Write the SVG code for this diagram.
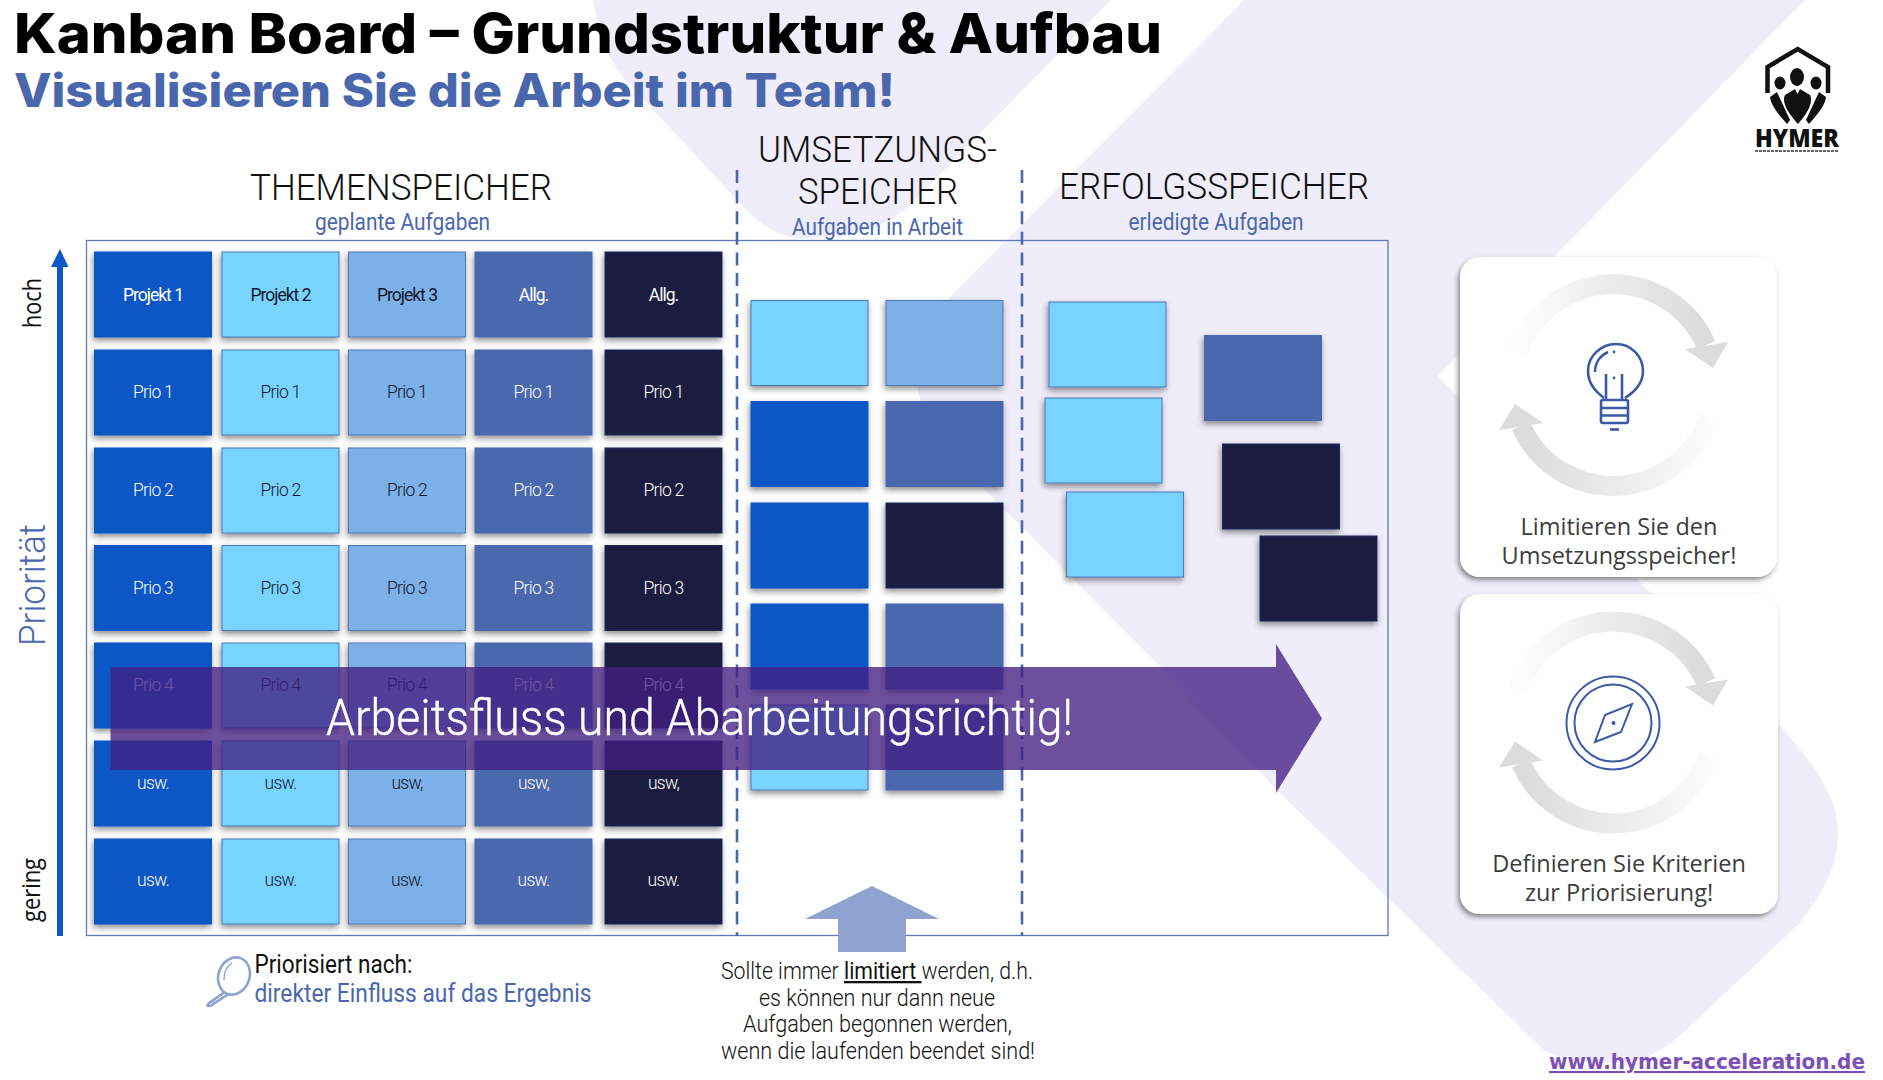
<svg xmlns="http://www.w3.org/2000/svg" xmlns:xlink="http://www.w3.org/1999/xlink" width="1883" height="1080" viewBox="0 0 1883 1080">
<defs>
<filter id="sh" x="-15%" y="-15%" width="130%" height="130%"><feDropShadow dx="-1" dy="3" stdDeviation="3" flood-color="#000" flood-opacity=".45"/></filter>
<filter id="psh" x="-5%" y="-5%" width="110%" height="110%"><feDropShadow dx="-2" dy="3" stdDeviation="2.5" flood-color="#333" flood-opacity=".55"/></filter>
<linearGradient id="gTop" gradientUnits="userSpaceOnUse" x1="1525" y1="0" x2="1700" y2="0"><stop offset="0" stop-color="#fcfcfc"/><stop offset=".5" stop-color="#ebebeb"/><stop offset="1" stop-color="#dcdcdc"/></linearGradient>
<linearGradient id="gBot" gradientUnits="userSpaceOnUse" x1="1525" y1="0" x2="1710" y2="0"><stop offset="0" stop-color="#dcdcdc"/><stop offset=".5" stop-color="#ebebeb"/><stop offset="1" stop-color="#fcfcfc"/></linearGradient>
<g id="cycle">
<path d="M1518,352 A101,101 0 0 1 1706,345" fill="none" stroke="url(#gTop)" stroke-width="20"/>
<path d="M1521,426 A101,101 0 0 0 1709,417" fill="none" stroke="url(#gBot)" stroke-width="20"/>
<polygon points="1685,349 1728,342 1713,368" fill="#dcdcdc"/>
<polygon points="1543,423 1499,430 1515,404" fill="#dcdcdc"/>
</g>
</defs>
<style>
text{font-family:"Roboto","Liberation Sans",sans-serif}
.c rect{width:117px;height:85px;filter:url(#sh);stroke-width:1}
.c text{font-size:17.5px;text-anchor:middle;font-weight:300;letter-spacing:-.7px}
.c .h{font-weight:400;letter-spacing:-1px}
.b rect{fill:#0d57c6;stroke:#0d57c6}
.l rect{fill:#78d4ff;stroke:#4a78b8}
.m rect{fill:#7cb0e6;stroke:#4f78b8}
.s rect{fill:#4a67ae;stroke:#4a67ae}
.n rect{fill:#1a1f40;stroke:#1f2a5a}
.b text,.s text,.n text{fill:#fff}
.l text,.m text{fill:#10182e}
.hd{font-size:36px;font-weight:300;fill:#111}
.sb{font-size:23px;fill:#4a67ae}
.nt{font-size:23px;font-weight:300;fill:#111;text-anchor:middle}
.pt{font-family:"Open Sans",sans-serif;font-size:23.5px;fill:#3c3c3c;text-anchor:middle}
.ic{fill:none;stroke:#3b5aa5;stroke-width:2.6}
</style>
<rect width="1883" height="1080" fill="#fff"/>
<g id="background" fill="#f0edfa">
<path d="M593,0 C598,30 605,55 625,80 L749,213 C770,232 785,238 805,238 C845,238 880,235 915,200 L1111,0 Z"/>
<path d="M1244,0 L1805,0 L1438,376 L1778,723 C1820,770 1838,800 1838,833 C1838,865 1825,890 1800,923 L1683,1033 C1650,1062 1630,1063 1610,1063 C1585,1063 1565,1060 1543,1050 L1400,910 L1276,789 L1160,667 L985,490 L930,425 C905,370 915,335 950,297 Z"/>
</g>
<g id="title">
<text x="14" y="53" font-size="55" font-weight="800" fill="#000" style="font-family:Inter,sans-serif" textLength="1148" lengthAdjust="spacingAndGlyphs">Kanban Board – Grundstruktur &amp; Aufbau</text>
<text x="14" y="107" font-size="46" font-weight="800" fill="#4a67ae" style="font-family:Inter,sans-serif" textLength="881" lengthAdjust="spacingAndGlyphs">Visualisieren Sie die Arbeit im Team!</text>
</g>
<g id="headers">
<text class="hd" x="250" y="200" textLength="302" lengthAdjust="spacingAndGlyphs">THEMENSPEICHER</text>
<text class="sb" x="315" y="230" textLength="175" lengthAdjust="spacingAndGlyphs">geplante Aufgaben</text>
<text class="hd" x="758" y="162" textLength="239" lengthAdjust="spacingAndGlyphs">UMSETZUNGS-</text>
<text class="hd" x="798" y="204" textLength="160" lengthAdjust="spacingAndGlyphs">SPEICHER</text>
<text class="sb" x="792" y="235" textLength="171" lengthAdjust="spacingAndGlyphs">Aufgaben in Arbeit</text>
<text class="hd" x="1059" y="199" textLength="310" lengthAdjust="spacingAndGlyphs">ERFOLGSSPEICHER</text>
<text class="sb" x="1128.5" y="230" textLength="175" lengthAdjust="spacingAndGlyphs">erledigte Aufgaben</text>
</g>
<g id="board-frame"><rect x="86.5" y="240.5" width="1301.5" height="695" fill="none" stroke="#5f7ab8" stroke-width="1.3"/></g>
<g id="connectors">
<line x1="737" y1="170" x2="737" y2="936" stroke="#4a67ae" stroke-width="2.6" stroke-dasharray="13 7.6"/>
<line x1="1022" y1="170" x2="1022" y2="936" stroke="#4a67ae" stroke-width="2.6" stroke-dasharray="13 7.6"/>
<path d="M60,936 V265" stroke="#0d57c6" stroke-width="6" fill="none"/>
<polygon points="60,249 68.5,267 51,267" fill="#0d57c6"/>
</g>
<g id="axis">
<text transform="translate(41,328) rotate(-90)" font-size="26" style="font-family:'Open Sans',sans-serif" fill="#111" textLength="50" lengthAdjust="spacingAndGlyphs">hoch</text>
<text transform="translate(40,922) rotate(-90)" font-size="26" style="font-family:'Open Sans',sans-serif" fill="#111" textLength="64" lengthAdjust="spacingAndGlyphs">gering</text>
<text transform="translate(45,646) rotate(-90)" font-size="37" font-weight="300" fill="#4a67ae" textLength="122" lengthAdjust="spacingAndGlyphs">Priorität</text>
</g>
<g id="themenspeicher">
<g id="t-r1c1" class="c b" transform="translate(94.5,252)"><rect/><text class="h" x="58.5" y="49">Projekt 1</text></g>
<g id="t-r1c2" class="c l" transform="translate(222,252)"><rect/><text class="h" x="58.5" y="49">Projekt 2</text></g>
<g id="t-r1c3" class="c m" transform="translate(348.5,252)"><rect/><text class="h" x="58.5" y="49">Projekt 3</text></g>
<g id="t-r1c4" class="c s" transform="translate(475,252)"><rect/><text class="h" x="58.5" y="49">Allg.</text></g>
<g id="t-r1c5" class="c n" transform="translate(605,252)"><rect/><text class="h" x="58.5" y="49">Allg.</text></g>
<g id="t-r2c1" class="c b" transform="translate(94.5,350)"><rect/><text x="58.5" y="48">Prio 1</text></g>
<g id="t-r2c2" class="c l" transform="translate(222,350)"><rect/><text x="58.5" y="48">Prio 1</text></g>
<g id="t-r2c3" class="c m" transform="translate(348.5,350)"><rect/><text x="58.5" y="48">Prio 1</text></g>
<g id="t-r2c4" class="c s" transform="translate(475,350)"><rect/><text x="58.5" y="48">Prio 1</text></g>
<g id="t-r2c5" class="c n" transform="translate(605,350)"><rect/><text x="58.5" y="48">Prio 1</text></g>
<g id="t-r3c1" class="c b" transform="translate(94.5,448)"><rect/><text x="58.5" y="48">Prio 2</text></g>
<g id="t-r3c2" class="c l" transform="translate(222,448)"><rect/><text x="58.5" y="48">Prio 2</text></g>
<g id="t-r3c3" class="c m" transform="translate(348.5,448)"><rect/><text x="58.5" y="48">Prio 2</text></g>
<g id="t-r3c4" class="c s" transform="translate(475,448)"><rect/><text x="58.5" y="48">Prio 2</text></g>
<g id="t-r3c5" class="c n" transform="translate(605,448)"><rect/><text x="58.5" y="48">Prio 2</text></g>
<g id="t-r4c1" class="c b" transform="translate(94.5,545.5)"><rect/><text x="58.5" y="48">Prio 3</text></g>
<g id="t-r4c2" class="c l" transform="translate(222,545.5)"><rect/><text x="58.5" y="48">Prio 3</text></g>
<g id="t-r4c3" class="c m" transform="translate(348.5,545.5)"><rect/><text x="58.5" y="48">Prio 3</text></g>
<g id="t-r4c4" class="c s" transform="translate(475,545.5)"><rect/><text x="58.5" y="48">Prio 3</text></g>
<g id="t-r4c5" class="c n" transform="translate(605,545.5)"><rect/><text x="58.5" y="48">Prio 3</text></g>
<g id="t-r5c1" class="c b" transform="translate(94.5,643)"><rect/><text x="58.5" y="48">Prio 4</text></g>
<g id="t-r5c2" class="c l" transform="translate(222,643)"><rect/><text x="58.5" y="48">Prio 4</text></g>
<g id="t-r5c3" class="c m" transform="translate(348.5,643)"><rect/><text x="58.5" y="48">Prio 4</text></g>
<g id="t-r5c4" class="c s" transform="translate(475,643)"><rect/><text x="58.5" y="48">Prio 4</text></g>
<g id="t-r5c5" class="c n" transform="translate(605,643)"><rect/><text x="58.5" y="48">Prio 4</text></g>
<g id="t-r6c1" class="c b" transform="translate(94.5,741)"><rect/><text x="58.5" y="48">usw.</text></g>
<g id="t-r6c2" class="c l" transform="translate(222,741)"><rect/><text x="58.5" y="48">usw.</text></g>
<g id="t-r6c3" class="c m" transform="translate(348.5,741)"><rect/><text x="58.5" y="48">usw,</text></g>
<g id="t-r6c4" class="c s" transform="translate(475,741)"><rect/><text x="58.5" y="48">usw,</text></g>
<g id="t-r6c5" class="c n" transform="translate(605,741)"><rect/><text x="58.5" y="48">usw,</text></g>
<g id="t-r7c1" class="c b" transform="translate(94.5,839)"><rect/><text x="58.5" y="47">usw.</text></g>
<g id="t-r7c2" class="c l" transform="translate(222,839)"><rect/><text x="58.5" y="47">usw.</text></g>
<g id="t-r7c3" class="c m" transform="translate(348.5,839)"><rect/><text x="58.5" y="47">usw.</text></g>
<g id="t-r7c4" class="c s" transform="translate(475,839)"><rect/><text x="58.5" y="47">usw.</text></g>
<g id="t-r7c5" class="c n" transform="translate(605,839)"><rect/><text x="58.5" y="47">usw.</text></g>
</g>
<g id="umsetzungsspeicher">
<g id="u1" class="c l" transform="translate(751,300.5)"><rect/></g>
<g id="u2" class="c m" transform="translate(886,300.5)"><rect/></g>
<g id="u3" class="c b" transform="translate(751,401.5)"><rect/></g>
<g id="u4" class="c s" transform="translate(886,401.5)"><rect/></g>
<g id="u5" class="c b" transform="translate(751,503)"><rect/></g>
<g id="u6" class="c n" transform="translate(886,503)"><rect/></g>
<g id="u7" class="c b" transform="translate(751,604)"><rect/></g>
<g id="u8" class="c s" transform="translate(886,604)"><rect/></g>
<g id="u9" class="c l" transform="translate(751,705)"><rect/></g>
<g id="u10" class="c s" transform="translate(886,705)"><rect/></g>
</g>
<g id="erfolgsspeicher">
<g id="e1" class="c l" transform="translate(1049,302)"><rect/></g>
<g id="e2" class="c s" transform="translate(1204.5,335.5)"><rect/></g>
<g id="e3" class="c l" transform="translate(1045,398)"><rect/></g>
<g id="e4" class="c n" transform="translate(1222.5,444)"><rect/></g>
<g id="e5" class="c l" transform="translate(1066.5,492)"><rect/></g>
<g id="e6" class="c n" transform="translate(1260,536)"><rect/></g>
</g>
<g id="flow-arrow">
<polygon points="110.5,667 1276,667 1276,644 1322,718.5 1276,793 1276,770 110.5,770" fill="#431f83" fill-opacity=".78"/>
<text x="326" y="735" font-size="50" font-weight="300" fill="#fff" stroke="#fff" stroke-width=".4" textLength="747" lengthAdjust="spacingAndGlyphs">Arbeitsfluss und Abarbeitungsrichtig!</text>
</g>
<g id="limit-arrow"><polygon points="872,886 939,919 906,919 906,952 838,952 838,919 805,919" fill="#8fa2d0"/></g>
<g id="limit-note">
<text class="nt" x="877" y="979" textLength="312" lengthAdjust="spacingAndGlyphs">Sollte immer <tspan text-decoration="underline" font-weight="400">limitiert </tspan>werden, d.h.</text>
<text class="nt" x="877" y="1006" textLength="236" lengthAdjust="spacingAndGlyphs">es können nur dann neue</text>
<text class="nt" x="877.5" y="1032" textLength="269" lengthAdjust="spacingAndGlyphs">Aufgaben begonnen werden,</text>
<text class="nt" x="878" y="1059" textLength="314" lengthAdjust="spacingAndGlyphs">wenn die laufenden beendet sind!</text>
</g>
<g id="priorisiert">
<g fill="none" stroke="#8fa3cf" stroke-width="2.6">
<ellipse cx="234" cy="976" rx="15.5" ry="19" transform="rotate(20 234 976)"/>
<path d="M225,992 L209,1003 Q206,1006 209,1006 Q212,1006 213,1004 L229,994"/>
<path d="M224,980 Q224,968 232,963" stroke-width="1.4"/>
</g>
<text x="254.5" y="973" font-size="25" font-weight="400" fill="#111" textLength="158" lengthAdjust="spacingAndGlyphs">Priorisiert nach:</text>
<text x="254.5" y="1002" font-size="25" font-weight="400" fill="#4a67ae" textLength="337" lengthAdjust="spacingAndGlyphs">direkter Einfluss auf das Ergebnis</text>
</g>
<g id="panel-limit">
<rect x="1460" y="257" width="317" height="320" rx="20" fill="#fff" filter="url(#psh)"/>
<use xlink:href="#cycle" href="#cycle"/>
<g class="ic" transform="translate(-1,0)">
<path d="M1605,398 C1600,394 1589,386 1589,371 C1589,356 1602,344 1617,344 C1632,344 1644,356 1644,371 C1644,386 1632,394 1626,398"/>
<path d="M1596,372 C1596,362 1602,355 1609,352"/>
<path d="M1607,400 V374 M1623,400 V374"/>
<rect x="1602" y="400" width="27" height="23" rx="2"/>
<path d="M1602,408 H1629 M1602,415.5 H1629"/>
<path d="M1611,429.5 H1620"/>
</g>
<circle cx="1614" cy="378" r="1.4" fill="#3b5aa5"/>
<circle cx="1614" cy="352" r="1.4" fill="#3b5aa5"/>
<text class="pt" x="1619" y="535">Limitieren Sie den</text>
<text class="pt" x="1619" y="564">Umsetzungsspeicher!</text>
</g>
<g id="panel-criteria">
<rect x="1460" y="594" width="318" height="320" rx="20" fill="#fff" filter="url(#psh)"/>
<use xlink:href="#cycle" href="#cycle" y="337.5"/>
<g fill="none" stroke="#3b5aa5" stroke-width="2">
<circle cx="1613" cy="723" r="46.5"/>
<circle cx="1613" cy="723" r="38.5"/>
<polygon points="1632,704 1621,732 1595,742 1605,715"/>
</g>
<circle cx="1613.5" cy="723" r="2" fill="#3b5aa5"/>
<text class="pt" x="1619" y="872">Definieren Sie Kriterien</text>
<text class="pt" x="1619" y="901">zur Priorisierung!</text>
</g>
<g id="logo">
<path d="M1767.5,93 V67 L1797.7,49 L1828,67 V93" fill="none" stroke="#111" stroke-width="4.5"/>
<g fill="#111">
<ellipse cx="1797" cy="77" rx="7" ry="9"/>
<ellipse cx="1780" cy="83" rx="5.5" ry="6.5"/>
<ellipse cx="1816" cy="83" rx="5.5" ry="6.5"/>
<path d="M1785,95 L1795,89 L1797.5,94 L1800,89 L1810,95 C1814,103 1806,115 1798,124 C1790,115 1781,103 1785,95 Z"/>
<path d="M1770,97 L1777,92 L1790,120 L1787,124 C1780,116 1771,106 1770,97 Z"/>
<path d="M1826,97 L1819,92 L1806,120 L1809,124 C1816,116 1825,106 1826,97 Z"/>
</g>
<text x="1755" y="147" font-size="25" font-weight="800" fill="#111" style="font-family:'Open Sans',sans-serif" textLength="84" lengthAdjust="spacingAndGlyphs">HYMER</text>
<line x1="1755" y1="151" x2="1839" y2="151" stroke="#333" stroke-width="1.6" stroke-dasharray="3 1"/>
</g>
<g id="website"><text x="1549" y="1069" font-size="21" font-weight="700" fill="#7c4fb8" text-decoration="underline" style="font-family:'DejaVu Sans',sans-serif" textLength="316" lengthAdjust="spacingAndGlyphs">www.hymer-acceleration.de</text></g>
</svg>
